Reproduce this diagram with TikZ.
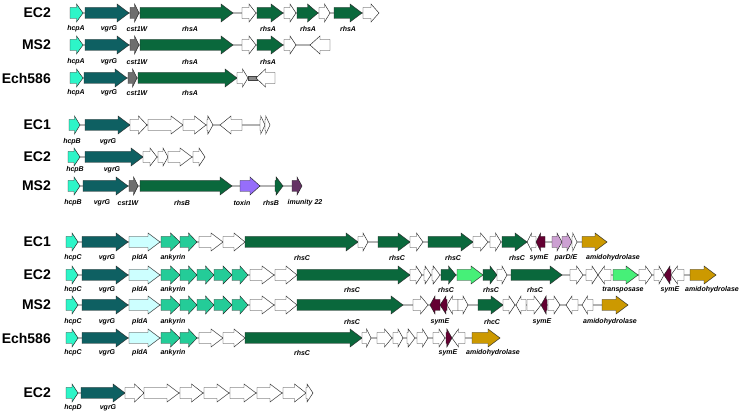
\documentclass[tikz,border=0pt]{standalone}
\usepackage{fontspec}
\setmainfont{Liberation Sans}
\usepackage{xcolor}
\usetikzlibrary{positioning}
\definecolor{hcpcol}{RGB}{45,245,200}
\definecolor{vgrcol}{RGB}{14,96,98}
\definecolor{cstcol}{RGB}{110,110,110}
\definecolor{rhscol}{RGB}{10,104,60}
\definecolor{pldcol}{RGB}{205,255,255}
\definecolor{ankcol}{RGB}{36,204,152}
\definecolor{trncol}{RGB}{70,240,120}
\definecolor{symcol}{RGB}{100,0,50}
\definecolor{parcol}{RGB}{204,160,210}
\definecolor{amicol}{RGB}{204,153,0}
\definecolor{toxcol}{RGB}{150,110,250}
\definecolor{immcol}{RGB}{100,50,100}

\newcommand{\gene}[4][white]{%
  \pgfmathsetmacro{\gnlen}{#3-(#2)}%
  \pgfmathsetmacro{\gnhd}{ifthenelse(abs(\gnlen)<9,0.85*\gnlen,sign(\gnlen)*min(12,0.5*abs(\gnlen)))}%
  \draw[gene,fill=#1] (#2,{#4-5.5}) -- ({#3-(\gnhd)},{#4-5.5}) -- ({#3-(\gnhd)},{#4-9})
    -- (#3,#4) -- ({#3-(\gnhd)},{#4+9}) -- ({#3-(\gnhd)},{#4+5.5}) -- (#2,{#4+5.5}) -- cycle;}

\begin{document}
\begin{tikzpicture}[
    x=1pt, y=-1pt,
    gene/.style={draw=black!85, line width=0.45pt},
    spine/.style={draw=black!75, line width=0.45pt, double=black!30, double distance=1.8pt},
    lbl/.style={font=\fontsize{7}{8}\selectfont\bfseries\itshape, inner sep=0pt},
    strain/.style={font=\fontsize{14}{16}\selectfont\bfseries, anchor=east, inner sep=0pt}
]
\useasboundingbox (0,0) rectangle (740,414);

\node[strain] (s1ec2) at (51,13) {EC2};
\node[strain] (s1ms2) at (51,45) {MS2};
\node[strain] (s1ech) at (51,78) {Ech586};
\draw[spine] (70,13) -- (379,13);
\draw[spine] (70,45) -- (330,45);
\draw[spine] (70,78) -- (275,78);
\foreach \y in {13,45} {
  \gene[hcpcol]{70}{83}{\y}
  \gene[vgrcol]{85}{129}{\y}
  \gene[cstcol]{130}{139}{\y}
  \gene[rhscol]{140}{233}{\y}
  \gene{242}{256}{\y}
  \gene[rhscol]{257}{283}{\y}
  \gene{284}{296}{\y}
}
\gene[rhscol]{297}{318}{13}
\gene{319}{330}{13}
\gene[rhscol]{334}{362}{13}
\gene{363}{379}{13}
\gene{330}{310}{45}
\gene[hcpcol]{70}{83}{78}
\gene[vgrcol]{84}{127}{78}
\gene[cstcol]{128}{137}{78}
\gene[rhscol]{138}{237}{78}
\gene{237}{248}{78}
\filldraw[fill=cstcol!80, draw=black!75, line width=0.45pt] (248,76) rectangle (257,80);
\gene{275}{256}{78}
\foreach \y/\r in {29/a,62/b,93/c} {
  \node[lbl] (hcpA\r) at (76,\y) {hcpA};
  \node[lbl] (vgrGA\r) at (109,\y) {vgrG};
  \node[lbl] (cstA\r) at (137,\y) {cst1W};
  \node[lbl] (rhsA\r) at (190,\y) {rhsA};
}
\node[lbl] (rhsAa2) at (268,29) {rhsA};
\node[lbl] (rhsAa3) at (308,29) {rhsA};
\node[lbl] (rhsAa4) at (348,29) {rhsA};
\node[lbl] (rhsAb2) at (268,62) {rhsA};

\node[strain] (s2ec1) at (51,125) {EC1};
\node[strain] (s2ec2) at (51,157) {EC2};
\node[strain] (s2ms2) at (51,186) {MS2};
\draw[spine] (69,125) -- (270,125);
\draw[spine] (68,157) -- (205,157);
\draw[spine] (68,186) -- (302,186);
\gene[hcpcol]{69}{80}{125}
\gene[vgrcol]{85}{130}{125}
\gene{130}{147}{125}
\gene{148}{183}{125}
\gene{183}{206}{125}
\gene{207}{213}{125}
\gene{242}{220}{125}
\gene{260}{265}{125}
\gene{265}{270}{125}
\gene[hcpcol]{68}{80}{157}
\gene[vgrcol]{85}{143}{157}
\gene{143}{157}{157}
\gene{158}{168}{157}
\gene{168}{192}{157}
\gene{193}{205}{157}
\gene[hcpcol]{68}{80}{186}
\gene[vgrcol]{83}{128}{186}
\gene[cstcol]{129}{138}{186}
\gene[rhscol]{140}{232}{186}
\gene[toxcol]{240}{260}{186}
\gene[rhscol]{275}{283}{186}
\gene[immcol]{292}{302}{186}
\node[lbl] (hcpBa) at (72,142) {hcpB};
\node[lbl] (vgrGBa) at (108,142) {vgrG};
\node[lbl] (hcpBb) at (75,170) {hcpB};
\node[lbl] (vgrGBb) at (112,170) {vgrG};
\node[lbl] (hcpBc) at (73,203) {hcpB};
\node[lbl] (vgrGBc) at (102,203) {vgrG};
\node[lbl] (cstBc) at (128,203) {cst1W};
\node[lbl] (rhsBc) at (182,203) {rhsB};
\node[lbl] (toxin) at (242,203) {toxin};
\node[lbl] (rhsBc2) at (271,203) {rhsB};
\node[lbl] (immB) at (305,203) {imunity 22};

\node[strain] (s3ec1) at (51,242) {EC1};
\node[strain] (s3ec2) at (51,275) {EC2};
\node[strain] (s3ms2) at (51,305) {MS2};
\node[strain] (s3ech) at (51,338) {Ech586};
\draw[spine] (66,242) -- (607,242);
\draw[spine] (66,275) -- (716,275);
\draw[spine] (66,305) -- (628,305);
\draw[spine] (66,338) -- (500,338);
\foreach \y in {242,275,305,338} {
  \gene[hcpcol]{66}{78}{\y}
  \gene[vgrcol]{82}{128}{\y}
  \gene[pldcol]{129}{160}{\y}
  \gene[ankcol]{161}{180}{\y}
  \gene[ankcol]{180}{197}{\y}
}
\foreach \y in {242,338} {
  \gene{199}{223}{\y}
  \gene{223}{245}{\y}
}
\foreach \y in {275,305} {
  \gene[ankcol]{197}{214}{\y}
  \gene[ankcol]{214}{232}{\y}
  \gene[ankcol]{232}{248}{\y}
  \gene{250}{274}{\y}
  \gene{275}{297}{\y}
}
\gene[rhscol]{245}{358}{242}
\gene{358}{368}{242}
\gene[rhscol]{378}{410}{242}
\gene{410}{423}{242}
\gene[rhscol]{428}{473}{242}
\gene{473}{488}{242}
\gene{490}{501}{242}
\gene[rhscol]{502}{527}{242}
\gene{536}{527}{242}
\gene[symcol]{545}{536}{242}
\gene[parcol]{552}{562}{242}
\gene[parcol]{562}{572}{242}
\gene{572}{577}{242}
\gene[amicol]{582}{607}{242}

\gene[rhscol]{297}{410}{275}
\gene{410}{422}{275}
\gene{424}{431}{275}
\gene{432}{440}{275}
\gene[rhscol]{441}{456}{275}
\gene[trncol]{457}{483}{275}
\gene[rhscol]{483}{497}{275}
\gene{497}{507}{275}
\gene[rhscol]{511}{562}{275}
\gene{570}{583}{275}
\gene{586}{598}{275}
\gene{611}{598}{275}
\gene[trncol]{613}{638}{275}
\gene{639}{652}{275}
\gene{654}{664}{275}
\gene[symcol]{671}{664}{275}
\gene{684}{671}{275}
\gene[amicol]{690}{716}{275}

\gene[rhscol]{297}{403}{305}
\gene{413}{428}{305}
\gene[symcol]{440}{430}{305}
\gene[symcol]{447}{440}{305}
\gene{458}{447}{305}
\gene{458}{468}{305}
\gene[rhscol]{478}{503}{305}
\gene{503}{515}{305}
\gene{526}{516}{305}
\gene{527}{541}{305}
\gene[symcol]{547}{541}{305}
\gene{548}{560}{305}
\gene{578}{566}{305}
\gene{593}{582}{305}
\gene[amicol]{602}{628}{305}

\gene[rhscol]{245}{362}{338}
\gene{362}{371}{338}
\gene{377}{392}{338}
\gene{393}{403}{338}
\gene{407}{415}{338}
\gene{417}{428}{338}
\gene{433}{445}{338}
\gene[symcol]{446}{452}{338}
\gene{465}{452}{338}
\gene[amicol]{472}{500}{338}

\foreach \y/\r in {258/a,290/b,322/c,353/d} {
  \node[lbl] (hcpC\r) at (73,\y) {hcpC};
  \node[lbl] (vgrGC\r) at (107,\y) {vgrG};
  \node[lbl] (pldA\r) at (140,\y) {pldA};
  \node[lbl] (ank\r) at (173,\y) {ankyrin};
}
\node[lbl] (rhsCa1) at (302,258) {rhsC};
\node[lbl] (rhsCa2) at (397,258) {rhsC};
\node[lbl] (rhsCa3) at (453,258) {rhsC};
\node[lbl] (rhsCa4) at (517,258) {rhsC};
\node[lbl] (symEa) at (539,258) {symE};
\node[lbl] (parDE) at (566,258) {parD/E};
\node[lbl] (amiCa) at (613,258) {amidohydrolase};
\node[lbl] (rhsCb1) at (352,290) {rhsC};
\node[lbl] (rhsCb2) at (446,290) {rhsC};
\node[lbl] (rhsCb3) at (491,290) {rhsC};
\node[lbl] (rhsCb4) at (535,290) {rhsC};
\node[lbl] (transp) at (623,290) {transposase};
\node[lbl] (symEb) at (670,290) {symE};
\node[lbl] (amiCb) at (712,290) {amidohydrolase};
\node[lbl] (rhsCc1) at (352,322) {rhsC};
\node[lbl] (symEc1) at (440,322) {symE};
\node[lbl] (rhcCc) at (492,322) {rhcC};
\node[lbl] (symEc2) at (542,322) {symE};
\node[lbl] (amiCc) at (610,322) {amidohydrolase};
\node[lbl] (rhsCd1) at (302,353) {rhsC};
\node[lbl] (symEd) at (448,353) {symE};
\node[lbl] (amiCd) at (493,353) {amidohydrolase};

\node[strain] (s4ec2) at (51,393) {EC2};
\draw[spine] (66,393) -- (313,393);
\gene[hcpcol]{66}{78}{393}
\gene[vgrcol]{81}{125}{393}
\gene{125}{144}{393}
\gene{144}{179}{393}
\gene{180}{203}{393}
\gene{204}{229}{393}
\gene{230}{256}{393}
\gene{257}{282}{393}
\gene{283}{306}{393}
\gene{306}{313}{393}
\node[lbl] (hcpD) at (73,408) {hcpD};
\node[lbl] (vgrGD) at (108,408) {vgrG};
\end{tikzpicture}
\end{document}
